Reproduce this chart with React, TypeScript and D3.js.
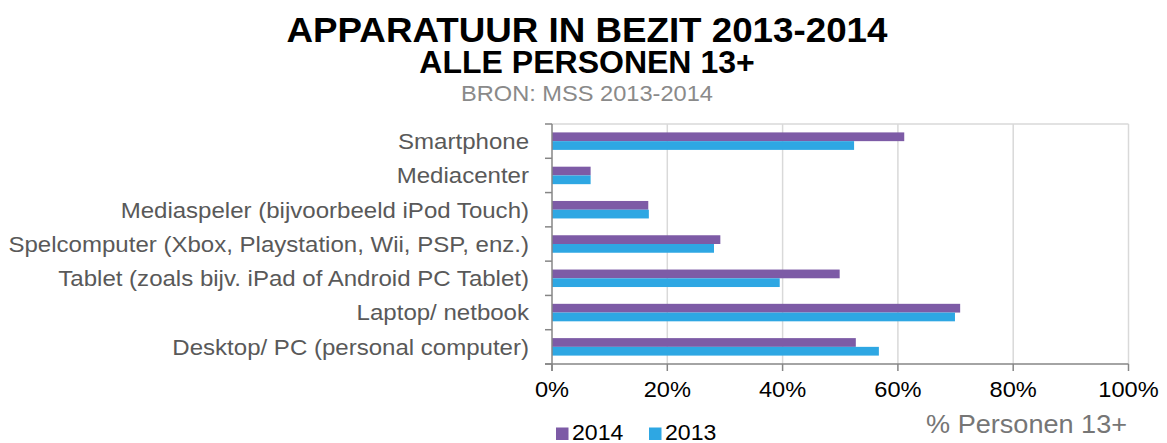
import React, { useEffect } from "react";
import * as d3 from "d3";

const categories = [
  "Smartphone",
  "Mediacenter",
  "Mediaspeler (bijvoorbeeld iPod Touch)",
  "Spelcomputer (Xbox, Playstation, Wii, PSP, enz.)",
  "Tablet (zoals bijv. iPad of Android PC Tablet)",
  "Laptop/ netbook",
  "Desktop/ PC (personal computer)",
];
const values2014 = [61.1, 6.7, 16.7, 29.2, 49.9, 70.8, 52.7];
const values2013 = [52.4, 6.7, 16.8, 28.1, 39.5, 69.9, 56.7];
const seriesNames = ["2014", "2013"];
const seriesColors = ["#7d5ba6", "#2ea7e3"];
const xTicks = [0, 20, 40, 60, 80, 100];
const title = "APPARATUUR IN BEZIT 2013-2014";
const subtitle = "ALLE PERSONEN 13+";
const source = "BRON: MSS 2013-2014";
const axisTitle = "% Personen 13+";

const W = 1167;
const H = 443;
const FONT = "'Liberation Sans', Arial, Helvetica, sans-serif";
const SX = 1.05;

const left = 552;
const right = 1128.5;
const top = 124;
const bottom = 364;

function T({ x, y, anchor = "start", size, weight = "normal", fill = "#000", children }: any) {
  return (
    <text
      transform={`translate(${x},${y}) scale(${SX},1)`}
      textAnchor={anchor}
      fontFamily={FONT}
      fontSize={size}
      fontWeight={weight}
      fill={fill}
    >
      {children}
    </text>
  );
}

export default function App() {
  useEffect(() => {
    document.body.style.margin = "0";
  }, []);

  const x = d3.scaleLinear().domain([0, 100]).range([left, right]);
  const y = d3
    .scaleBand<string>()
    .domain(categories)
    .range([top, bottom])
    .paddingInner(0.49)
    .paddingOuter(0.245);
  const ys = d3.scaleBand<string>().domain(seriesNames).range([0, y.bandwidth()]);
  const series = [values2014, values2013];
  const step = y.step();
  const boundaries = d3.range(categories.length + 1).map((i) => top + i * step);

  return (
    <svg width={W} height={H} style={{ position: "absolute", left: 0, top: 0, background: "#fff" }}>
      {/* titles */}
      <T x={587} y={42} anchor="middle" size={35} weight="bold">{title}</T>
      <T x={587} y={73} anchor="middle" size={30.5} weight="bold">{subtitle}</T>
      <T x={587} y={100.5} anchor="middle" size={22.5} fill="#8a8a8a">{source}</T>

      {/* gridlines */}
      {xTicks.filter((t) => t > 0).map((t) => (
        <line key={t} x1={x(t)} x2={x(t)} y1={top} y2={bottom} stroke="#d9d9d9" strokeWidth={1.5} />
      ))}
      <line x1={left} x2={right} y1={top} y2={top} stroke="#d9d9d9" strokeWidth={1.5} />

      {/* bars */}
      {series.map((vals, si) =>
        categories.map((c, i) => (
          <rect
            key={`${si}-${i}`}
            x={x(0)}
            y={(y(c) as number) + (ys(seriesNames[si]) as number)}
            width={x(vals[i]) - x(0)}
            height={ys.bandwidth()}
            fill={seriesColors[si]}
          />
        ))
      )}

      {/* y axis */}
      <line x1={left} x2={left} y1={top} y2={bottom + 7} stroke="#868686" strokeWidth={1.5} />
      {boundaries.map((b, i) => (
        <line key={i} x1={left - 7} x2={left} y1={b} y2={b} stroke="#868686" strokeWidth={1.5} />
      ))}
      {categories.map((c) => (
        <T key={c} x={529} y={(y(c) as number) + y.bandwidth() / 2 + 7.8} anchor="end" size={22.9} fill="#595959">
          {c}
        </T>
      ))}

      {/* x axis */}
      <line x1={left - 7} x2={right} y1={bottom} y2={bottom} stroke="#868686" strokeWidth={1.5} />
      {xTicks.map((t) => (
        <g key={t}>
          <line x1={x(t)} x2={x(t)} y1={bottom} y2={bottom + 7} stroke="#868686" strokeWidth={1.5} />
          <T x={x(t)} y={397} anchor="middle" size={22.5}>{`${t}%`}</T>
        </g>
      ))}
      <T x={1127} y={433} anchor="end" size={25.8} fill="#767676">{axisTitle}</T>

      {/* legend */}
      {seriesNames.map((s, i) => (
        <g key={s}>
          <rect x={556 + i * 93} y={427.5} width={12.5} height={12.5} fill={seriesColors[i]} />
          <T x={572 + i * 93} y={439.5} size={22}>{s}</T>
        </g>
      ))}
    </svg>
  );
}
